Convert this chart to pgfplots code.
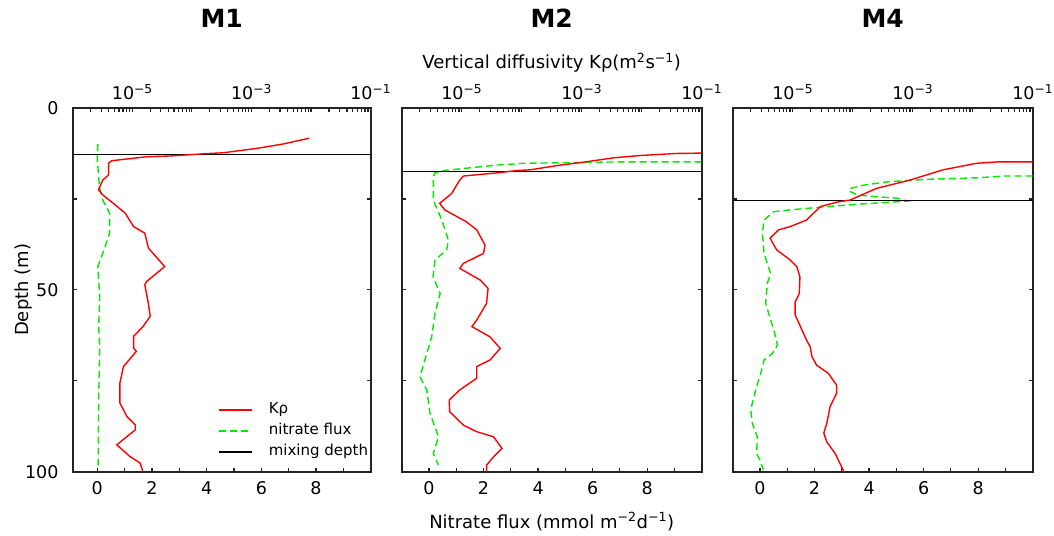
\documentclass[border=0pt]{standalone}
\usepackage{fontspec}
\setmainfont{DejaVu Sans}
\usepackage{pgfplots}
\pgfplotsset{compat=1.18}

\definecolor{kred}{RGB}{255,0,0}
\definecolor{fgreen}{RGB}{0,235,0}
\definecolor{framec}{RGB}{35,35,35}

\pgfplotsset{
  kline/.style={color=kred, line width=1.4bp},
  fline/.style={color=fgreen, line width=1.4bp, dash pattern=on 7bp off 4bp},
  mline/.style={color=black, line width=1.5bp},
  panel/.style={
    scale only axis, width=298bp, height=363.7bp,
    ymin=0, ymax=100, y dir=reverse,
    no markers,
    axis line style={framec, line width=1.8bp},
    tick style={framec, line width=1.2bp},
    tick align=inside,
    major tick length=4bp, minor tick length=4bp,
    ticklabel style={font=\fontsize{17.5bp}{20bp}\selectfont},
    label style={font=\fontsize{18bp}{21bp}\selectfont},
    /pgf/number format/assume math mode=true,
  },
  fluxaxis/.style={panel,
    xmin=-1, xmax=10,
    xtick={0,2,4,6,8}, minor xtick={1,3,5,7,9},
    xtick pos=left,
    ytick={0,25,50,75,100}, yticklabels={},
    ytick pos=both,
    xticklabel style={anchor=north, inner sep=0pt, yshift=-10bp},
    title style={at={(axis description cs:0.5,1.206)}, anchor=base,
      font=\fontsize{25bp}{28bp}\selectfont\bfseries},
  },
  kaxis/.style={panel,
    xmin=1e-6, xmax=1e-1,
    axis x line*=top, axis y line=none,
    xtick={1e-6,1e-5,1e-4,1e-3,1e-2,1e-1},
    xticklabels={,10\textsuperscript{−5},,10\textsuperscript{−3},,10\textsuperscript{−1}},
    xticklabel style={anchor=base, inner sep=0pt, yshift=8bp},
  },
}

\begin{document}
\begin{tikzpicture}
\useasboundingbox (0,0) rectangle (1054bp,536bp);

% ---------------- M1 ----------------
\begin{axis}[fluxaxis, at={(72.7bp,64.3bp)}, xmin=-0.9,
  title={M1},
  yticklabels={0,,50,,100},
  yticklabel style={anchor=east, inner sep=0pt, xshift=-14bp},
  ylabel={Depth (m)},
  ylabel style={at={(axis description cs:-0.150,0.5)}, anchor=base},
  legend style={draw=none, fill=none, inner sep=0pt,
    at={(axis description cs:0.488,0.19)}, anchor=north west,
    font=\fontsize{15bp}{17bp}\selectfont,
    nodes={inner sep=0pt, text height=11bp, text depth=3.5bp},
    row sep=6.5bp,
    /tikz/every odd column/.append style={column sep=16bp}},
  legend cell align=left,
  legend image code/.code={\draw[#1] (0bp,0bp) -- (33bp,0bp);},
]
\addlegendimage{kline}\addlegendentry{Kρ}
\addplot[fline] coordinates {
(0.02,9.9) (0.0,14.3) (0.08,21.6) (0.2,25.3) (0.45,28.9) (0.45,34.4)
(0.27,38.5) (0.02,43.6) (0.09,52) (0.05,60) (0.09,66) (0.05,80) (0.03,99.5)};
\addlegendentry{nitrate flux}
\addplot[mline] coordinates {(-0.9,12.8) (10,12.8)};
\addlegendentry{mixing depth}
\end{axis}
\begin{semilogxaxis}[kaxis, at={(72.7bp,64.3bp)}]
\addplot[kline] coordinates {
(9.3e-3,8.3) (3.4e-3,9.9) (1.23e-3,11.1) (3.4e-4,12.3) (1.55e-4,12.6)
(4.3e-5,13.2) (1.74e-5,13.4) (4.5e-6,14.5) (4.0e-6,15.2) (4.0e-6,18.4)
(3.2e-6,19.8) (2.7e-6,22.5) (3.2e-6,23.9) (4.8e-6,26.2) (7.6e-6,28.9)
(1.05e-5,32.6) (1.62e-5,34.4) (1.86e-5,38.5) (3.5e-5,43.6) (1.74e-5,47.7)
(1.62e-5,48.6) (1.86e-5,53.7) (2.0e-5,57.3) (1.51e-5,60.1) (1.05e-5,62.8)
(1.05e-5,66.0) (1.17e-5,66.9) (7.1e-6,71.1) (6.2e-6,75.6) (6.2e-6,81.1)
(8.1e-6,84.8) (1.12e-5,87.1) (1.12e-5,88.5) (5.5e-6,92.6) (9.1e-6,95.8)
(1.35e-5,97.6) (1.51e-5,100)};
\end{semilogxaxis}

% ---------------- M2 ----------------
\begin{axis}[fluxaxis, at={(401.7bp,64.3bp)}, width=300bp,
  title={M2},
  xlabel={Nitrate flux (mmol m\textsuperscript{−2}d\textsuperscript{−1})},
  xlabel style={at={(axis description cs:0.5,-0.155)}, anchor=base},
]
\addplot[fline] coordinates {
(10.0,14.8) (7.0,14.8) (5.56,15.0) (3.47,15.2) (2.49,15.7) (0.65,17.1)
(0.22,17.8) (0.16,18.9) (0.16,25.3) (0.47,30.8) (0.71,36.3) (0.65,39.0)
(0.22,41.8) (0.15,46.4) (0.41,51) (0.22,56.5) (0.10,62.9) (-0.08,67.5)
(-0.33,73.9) (-0.08,77.5) (0.04,84) (0.35,90.4) (0.16,95) (0.35,98.2)};
\addplot[mline] coordinates {(-1,17.5) (10,17.5)};
\end{axis}
\begin{semilogxaxis}[kaxis, at={(401.7bp,64.3bp)}, width=300bp,
  xlabel={Vertical diffusivity Kρ(m\textsuperscript{2}s\textsuperscript{−1})},
  xlabel style={at={(axis description cs:0.5,1.109)}, anchor=base},
]
\addplot[kline] coordinates {
(1e-1,12.4) (3.8e-2,12.5) (8.7e-3,13.1) (3.4e-3,13.7) (1.07e-3,14.9)
(4.4e-4,15.7) (1.38e-4,17.0) (8.3e-5,17.2) (4.1e-5,17.8) (1.07e-5,18.7)
(9.3e-6,19.8) (6.8e-6,23.5) (4.3e-6,26.2) (5.2e-6,28.0) (1.2e-5,31.3)
(1.78e-5,33.5) (2.45e-5,37.7) (2.3e-5,40.0) (1.07e-5,42.7) (9.3e-6,44.1)
(2.04e-5,47.3) (2.75e-5,49.6) (2.6e-5,53.7) (1.78e-5,58.3) (1.48e-5,60.1)
(2.95e-5,62.9) (4.4e-5,66.1) (2.95e-5,69.3) (1.78e-5,71.1) (1.78e-5,74.3)
(9.3e-6,77.5) (6.2e-6,80.3) (6.3e-6,83.5) (1.07e-5,87.2) (1.78e-5,89.0)
(3.4e-5,90.4) (4.7e-5,93.6) (3.4e-5,95.9) (2.6e-5,98.2) (2.6e-5,100)};
\end{semilogxaxis}

% ---------------- M4 ----------------
\begin{axis}[fluxaxis, at={(732.7bp,64.3bp)}, width=300bp,
  title={M4},
]
\addplot[fline] coordinates {
(10.0,18.7) (8.94,18.7) (7.96,19.2) (6.13,19.6) (4.67,20.3) (3.81,21.2)
(3.32,22.1) (3.26,22.8) (3.57,23.9) (4.30,24.4) (5.03,24.8) (5.40,25.6)
(4.79,25.9) (3.69,26.4) (2.47,27.1) (1.12,28.0) (0.51,28.5) (0.15,30.8)
(0.09,34.4) (0.15,40.0) (0.39,45.5) (0.27,48.2) (0.21,53.7) (0.39,58.3)
(0.51,61.0) (0.64,65.2) (0.45,67.5) (0.15,69.3) (0.03,72.9) (-0.16,77.5)
(-0.34,83.0) (-0.28,86.7) (-0.10,90.4) (-0.12,95.0) (0.03,97.3) (0.12,99.5)};
\addplot[mline] coordinates {(-1,25.5) (10,25.5)};
\end{axis}
\begin{semilogxaxis}[kaxis, at={(732.7bp,64.3bp)}, width=300bp]
\addplot[kline] coordinates {
(1e-1,14.8) (2.7e-2,14.8) (1.17e-2,15.2) (3.2e-3,17.0) (9.1e-4,19.8)
(2.5e-4,22.1) (9.1e-5,25.3) (5.4e-5,25.9) (2.9e-5,27.1) (2.2e-5,29.0)
(1.7e-5,30.8) (9.1e-6,32.6) (5.8e-6,33.5) (4.2e-6,35.8) (5.4e-6,39.0)
(9.1e-6,41.8) (1.17e-5,43.6) (1.32e-5,46.4) (1.29e-5,51.0) (1.1e-5,53.3)
(1.1e-5,56.9) (1.7e-5,63.8) (1.95e-5,65.6) (2.1e-5,68.4) (2.5e-5,70.7)
(3.9e-5,72.9) (5.4e-5,76.2) (5.4e-5,78.4) (4.2e-5,82.1) (3.7e-5,86.7)
(3.3e-5,89.4) (3.7e-5,91.8) (5.1e-5,95.0) (6.9e-5,99.5) (7.1e-5,100)};
\end{semilogxaxis}
\end{tikzpicture}
\end{document}
